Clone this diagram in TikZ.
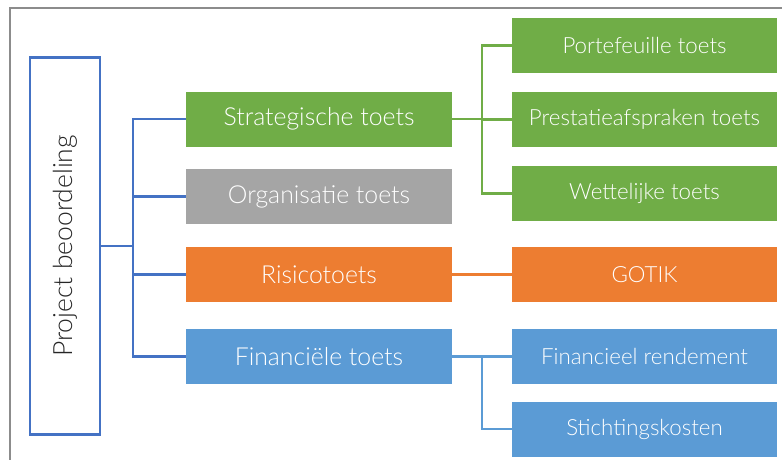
\documentclass[tikz,border=0pt]{standalone}
\usepackage{fontspec}
\setmainfont{Lato Light}
\definecolor{cgreen}{HTML}{70AD47}
\definecolor{cgray}{HTML}{A5A5A5}
\definecolor{corange}{HTML}{ED7D31}
\definecolor{cblue}{HTML}{5B9BD5}
\definecolor{cline}{HTML}{4472C4}
\definecolor{cframe}{HTML}{8C8C8C}
\begin{document}
\begin{tikzpicture}[x=1pt,y=-1pt,
  box/.style={draw=none,minimum width=266pt,minimum height=55pt,inner sep=0pt,text=white,font=\fontsize{24.8}{28}\selectfont},
  rbox/.style={draw=none,minimum width=265pt,minimum height=55pt,inner sep=0pt,text=white,font=\fontsize{22.3}{25}\selectfont},
  bus/.style={draw=cline,line width=2.1pt},
  conn/.style={line width=2.1pt},
]
\useasboundingbox (0,0) rectangle (782,459);
\fill[white] (0,0) rectangle (782,459);
\draw[cframe,line width=1.5pt] (10,470) -- (10,8) -- (790,8);
% root
\node[draw=cline,line width=2.1pt,minimum width=70pt,minimum height=377pt,inner sep=0pt] (root) at (65,246) {};
\node[rotate=90,font=\fontsize{26.5}{30}\selectfont,text=black!85] (roottext) at (root.center) {Project beoordeling};
% level 2
\node[box,fill=cgreen] (s) at (319,119) {Strategische toets};
\node[box,fill=cgray] (o) at (319,196.5) {Organisatie toets};
\node[box,fill=corange] (r) at (319,274.5) {Risicotoets};
\node[box,fill=cblue] (f) at (319,356.5) {Financiële toets};
% level 3
\node[rbox,fill=cgreen] (p1) at (644.5,45.5) {Portefeuille toets};
\node[rbox,fill=cgreen] (p2) at (644.5,119.5) {Prestatieafspraken toets};
\node[rbox,fill=cgreen] (p3) at (644.5,193.5) {Wettelijke toets};
\node[rbox,fill=corange] (g) at (644.5,274.5) {GOTIK};
\node[rbox,fill=cblue] (fr) at (644.5,356.5) {Financieel rendement};
\node[rbox,fill=cblue] (sk) at (644.5,429) {Stichtingskosten};
% bus
\coordinate (bx) at (133,0);
\draw[bus] (root.east) -- (root.east -| bx);
\draw[bus] (s.west) -| (bx |- f.west) -- (f.west);
\draw[bus] (o.west) -- (o.west -| bx);
\draw[bus] (r.west) -- (r.west -| bx);
% green
\coordinate (gx) at (482,0);
\draw[cgreen,conn] (s.east) -- (s.east -| gx);
\draw[cgreen,conn] (p1.west) -| (gx |- p3.west) -- (p3.west);
\draw[cgreen,conn] (p2.west) -- (p2.west -| gx);
% orange
\draw[corange,conn] (r.east) -- (g.west);
% blue
\draw[cblue,conn] (f.east) -- (fr.west);
\draw[cblue,conn] (f.east -| gx) |- (sk.west);
\end{tikzpicture}
\end{document}
